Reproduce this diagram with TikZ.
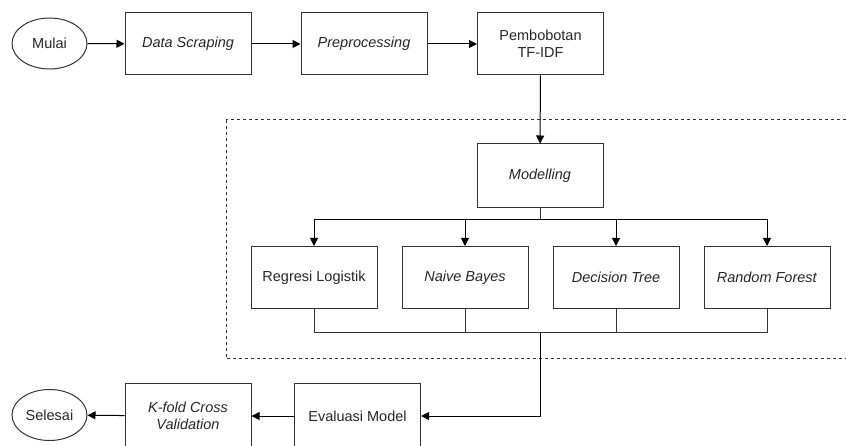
\documentclass[tikz,border=0pt]{standalone}
\usepackage{fontspec}
\setmainfont{Liberation Sans}
\usepackage{tikz}
\usetikzlibrary{shapes.geometric,arrows.meta}
\definecolor{linegray}{HTML}{333333}
\tikzset{
	stepbox/.style={draw=linegray, line width=1bp, rectangle, minimum width=126bp, minimum height=62bp, align=center, text=black!85, font=\fontsize{14.5bp}{17bp}\selectfont},
	termbox/.style={draw=linegray, line width=1bp, ellipse, minimum width=75bp, minimum height=51bp, inner sep=0pt, text=black!85, font=\fontsize{14.5bp}{17bp}\selectfont},
	flow/.style={line width=1bp, draw=black, -{Triangle[length=8bp,width=8bp]}},
	wire/.style={line width=1bp, draw=linegray}
}

\begin{document}
\begin{tikzpicture}[x=1bp, y=-1bp]
			%%%%% START %%%%%
			\useasboundingbox (0, 0) rectangle (846, 446);
			
			% area modelling
			\draw[line width=1bp, color=linegray, dash pattern=on 3bp off 3bp] (226, 120) rectangle (870, 359);
			
			\node[termbox] (mulai) at (49.5, 43.5) {Mulai};
			\node[stepbox] (scraping) at (188, 44) {\textit{Data Scraping}};
			\node[stepbox] (prepro) at (364, 44) {\textit{Preprocessing}};
			\node[stepbox] (tfidf) at (540.5, 44) {Pembobotan\\TF-IDF};
			
			\node[stepbox, minimum height=64bp] (modelling) at (540, 176) {\textit{Modelling}};
			
			\node[stepbox] (regresi) at (314, 277.5) {Regresi Logistik};
			\node[stepbox] (naive) at (465, 277.5) {\textit{Naive Bayes}};
			\node[stepbox] (decision) at (616, 277.5) {\textit{Decision Tree}};
			\node[stepbox] (random) at (767, 277.5) {\textit{Random Forest}};
			
			\node[stepbox, minimum height=64bp] (evaluasi) at (357.5, 416) {Evaluasi Model};
			\node[stepbox, minimum height=64bp] (kfold) at (188, 416) {\textit{K-fold Cross}\\\textit{Validation}};
			\node[termbox] (selesai) at (49.5, 415) {Selesai};
			
			\coordinate (split) at (540, 220);
			\coordinate (join) at (540, 333);
			
			\draw[flow] (mulai) -- (scraping);
			\draw[flow] (scraping) -- (prepro);
			\draw[flow] (prepro) -- (tfidf);
			\draw[flow] (tfidf) -- (modelling);
			
			\draw[wire] (modelling) -- (split);
			\draw[flow] (split) -| (regresi);
			\draw[flow] (split) -| (naive);
			\draw[flow] (split) -| (decision);
			\draw[flow] (split) -| (random);
			
			\draw[wire] (regresi) |- (join);
			\draw[wire] (naive) |- (join);
			\draw[wire] (decision) |- (join);
			\draw[wire] (random) |- (join);
			\draw[flow] (join) |- (evaluasi);
			
			\draw[flow] (evaluasi) -- (kfold);
			\draw[flow] (kfold) -- (selesai);
			%%%%% END %%%%%
		\end{tikzpicture}
\end{document}
